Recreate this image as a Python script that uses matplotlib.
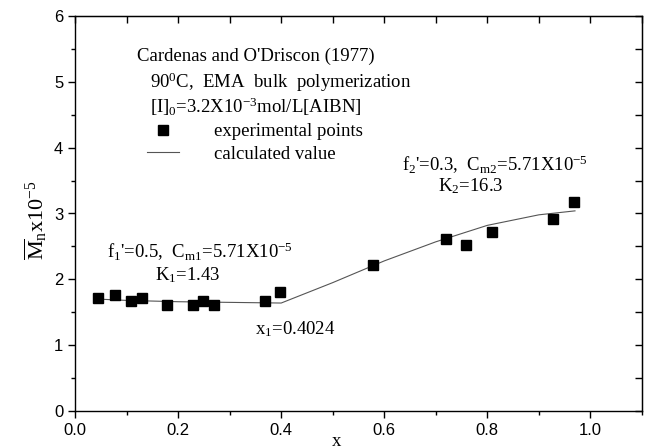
import matplotlib
matplotlib.use("Agg")
import matplotlib.pyplot as plt
from matplotlib.ticker import MultipleLocator, NullFormatter

# experimental points (Cardenas and O'Driscoll 1977)
exp_x = [0.044, 0.078, 0.109, 0.130, 0.179, 0.228, 0.249, 0.270, 0.369, 0.398,
         0.578, 0.720, 0.758, 0.809, 0.927, 0.968]
exp_y = [1.72, 1.76, 1.67, 1.72, 1.61, 1.61, 1.67, 1.61, 1.67, 1.81,
         2.22, 2.62, 2.52, 2.72, 2.92, 3.17]

# calculated curve
calc_x = [0.044, 0.10, 0.20, 0.30, 0.40, 0.50, 0.60, 0.70, 0.80, 0.90, 0.97]
calc_y = [1.70, 1.68, 1.66, 1.65, 1.64, 1.95, 2.28, 2.57, 2.82, 2.98, 3.04]

plt.rcParams['mathtext.fontset'] = 'custom'
plt.rcParams['mathtext.rm'] = 'Liberation Serif'
plt.rcParams['mathtext.it'] = 'Liberation Serif:italic'
plt.rcParams['mathtext.bf'] = 'Liberation Serif:bold'

serif = 'Liberation Serif'
sans = 'Liberation Sans'

fig = plt.figure(figsize=(6.5, 4.48), dpi=100)
ax = fig.add_axes([75 / 650, 37 / 448, 567 / 650, 395 / 448])

ax.plot(calc_x, calc_y, color='#555555', lw=0.8, label='calculated value')
ax.plot(exp_x, exp_y, 's', color='black', ms=7, label='experimental points',
        zorder=3)

ax.set_xlim(0, 1.1)
ax.set_ylim(0, 6)

ax.xaxis.set_major_locator(MultipleLocator(0.2))
ax.xaxis.set_minor_locator(MultipleLocator(0.1))
ax.yaxis.set_major_locator(MultipleLocator(1))
ax.yaxis.set_minor_locator(MultipleLocator(0.5))
ax.xaxis.set_major_formatter(plt.FuncFormatter(lambda v, p: f"{v:.1f}"))
ax.tick_params(which='major', direction='out', length=5, width=1.0,
               labelsize=12)
ax.tick_params(which='minor', direction='out', length=3, width=1.0)
for lab in ax.get_xticklabels() + ax.get_yticklabels():
    lab.set_fontfamily(sans)
for s in ax.spines.values():
    s.set_linewidth(1.0)

top = ax.secondary_xaxis('top')
top.xaxis.set_major_locator(MultipleLocator(0.1))
top.xaxis.set_major_formatter(NullFormatter())
top.tick_params(direction='in', length=5, width=1.0)

right = ax.secondary_yaxis('right')
right.yaxis.set_major_locator(MultipleLocator(0.5))
right.yaxis.set_major_formatter(NullFormatter())
right.tick_params(direction='in', length=5, width=1.0)

fig.text(337 / 650, 1 - 441 / 448, 'x', fontfamily=serif, fontsize=13.5,
         ha='center', va='center')
fig.text(36 / 650, 1 - 220 / 448, r'$\overline{\rm M}_{\rm n}$x10$^{-5}$',
         fontfamily=serif, fontsize=16, rotation=90, ha='center', va='center')

fs = 13.5
def px(x, y):
    return ((x - 75) / 567, (411 - y) / 395)

ax.text(*px(137, 56), "Cardenas and O'Driscon (1977)", transform=ax.transAxes,
        fontfamily=serif, fontsize=fs, va='center')
ax.text(*px(150, 82), r"90$^0$C,  EMA  bulk  polymerization",
        transform=ax.transAxes, fontfamily=serif, fontsize=fs, va='center')
ax.text(*px(150, 107), r"[I]$_0$=3.2X10$^{-3}$mol/L[AIBN]",
        transform=ax.transAxes, fontfamily=serif, fontsize=fs, va='center')

ax.text(*px(402, 165), r"f$_2$'=0.3,  C$_{\rm m2}$=5.71X10$^{-5}$",
        transform=ax.transAxes, fontfamily=serif, fontsize=fs, va='center')
ax.text(*px(438, 186), r"K$_2$=16.3", transform=ax.transAxes,
        fontfamily=serif, fontsize=fs, va='center')
ax.text(*px(107, 252), r"f$_1$'=0.5,  C$_{\rm m1}$=5.71X10$^{-5}$",
        transform=ax.transAxes, fontfamily=serif, fontsize=fs, va='center')
ax.text(*px(155, 275), r"K$_1$=1.43", transform=ax.transAxes,
        fontfamily=serif, fontsize=fs, va='center')
ax.text(*px(255, 329), r"x$_1$=0.4024", transform=ax.transAxes,
        fontfamily=serif, fontsize=fs, va='center')

h, l = ax.get_legend_handles_labels()
leg = ax.legend([h[1], h[0]], [l[1], l[0]], loc='upper left',
                bbox_to_anchor=px(147, 123), frameon=False, borderpad=0,
                borderaxespad=0, handlelength=1.7, handletextpad=1.9,
                labelspacing=0.3, prop={'family': serif, 'size': fs})

fig.savefig('out.png', dpi=100)
